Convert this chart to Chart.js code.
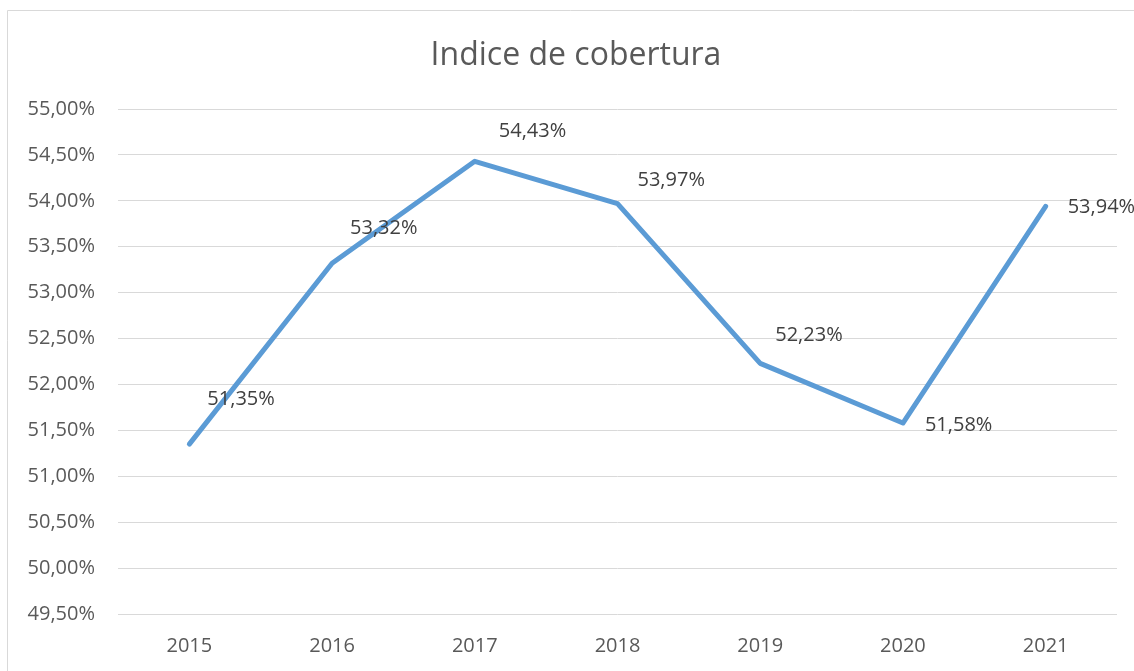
<!DOCTYPE html>
<html>
<head>
<meta charset="utf-8">
<script src="https://cdn.jsdelivr.net/npm/chart.js@4"></script>
<style>
html,body{margin:0;padding:0;background:#fff;}
#wrap{position:relative;width:1134px;height:671px;}
</style>
</head>
<body>
<div id="wrap"><canvas id="c" width="1134" height="671"></canvas></div>
<script>
const years = ['2015','2016','2017','2018','2019','2020','2021'];
const coverage = [51.35, 53.32, 54.43, 53.97, 52.23, 51.58, 53.94];
const chartTitle = 'Indice de cobertura';
const yMin = 49.5, yMax = 55.0, yStep = 0.5;

const fmt = v => v.toFixed(2).replace('.', ',') + '%';
const FONT = "'Open Sans', 'DejaVu Sans', sans-serif";

// data-label nudges (pixels, relative to each point), as placed in the original
const labelNudge = [[18,-45],[18,-35],[24,-30],[20,-23],[15,-28],[22,2],[22,1]];

const decor = {
  id: 'decor',
  beforeDraw(chart) {
    const ctx = chart.ctx;
    ctx.save();
    ctx.strokeStyle = '#d9d9d9';
    ctx.lineWidth = 1;
    ctx.beginPath();
    ctx.moveTo(7.5, 671);
    ctx.lineTo(7.5, 10.5);
    ctx.lineTo(1134, 10.5);
    ctx.stroke();
    ctx.fillStyle = '#595959';
    ctx.font = '32px ' + FONT;
    ctx.textAlign = 'center';
    ctx.textBaseline = 'middle';
    ctx.fillText(chartTitle, 576, 56);
    ctx.restore();
  },
  afterDatasetsDraw(chart) {
    const ctx = chart.ctx;
    const meta = chart.getDatasetMeta(0);
    ctx.save();
    ctx.fillStyle = '#404040';
    ctx.font = '20px ' + FONT;
    ctx.textAlign = 'left';
    ctx.textBaseline = 'middle';
    meta.data.forEach((pt, i) => {
      const n = labelNudge[i];
      ctx.fillText(fmt(coverage[i]), pt.x + n[0], pt.y + n[1]);
    });
    ctx.restore();
  }
};

new Chart(document.getElementById('c'), {
  type: 'line',
  data: {
    labels: years,
    datasets: [{
      data: coverage,
      borderColor: '#5b9bd5',
      borderWidth: 5,
      borderCapStyle: 'round',
      borderJoinStyle: 'round',
      pointRadius: 0,
      tension: 0,
      fill: false
    }]
  },
  options: {
    responsive: false,
    animation: false,
    devicePixelRatio: 1,
    layout: { padding: { top: 109, right: 17, left: 0, bottom: 0 } },
    plugins: { legend: { display: false }, tooltip: { enabled: false }, title: { display: false } },
    scales: {
      x: {
        offset: true,
        grid: { display: false, drawTicks: false },
        border: { display: false },
        ticks: { color: '#595959', font: { family: FONT, size: 20 }, padding: 20 },
        afterFit(s) { s.height = 57; }
      },
      y: {
        min: yMin, max: yMax,
        grid: { color: '#d9d9d9', lineWidth: 1, drawTicks: false },
        border: { display: false },
        ticks: {
          stepSize: yStep,
          color: '#595959',
          font: { family: FONT, size: 20 },
          padding: 23,
          callback: v => fmt(v)
        },
        afterFit(s) { s.width = 118; }
      }
    }
  },
  plugins: [decor]
});
</script>
</body>
</html>
